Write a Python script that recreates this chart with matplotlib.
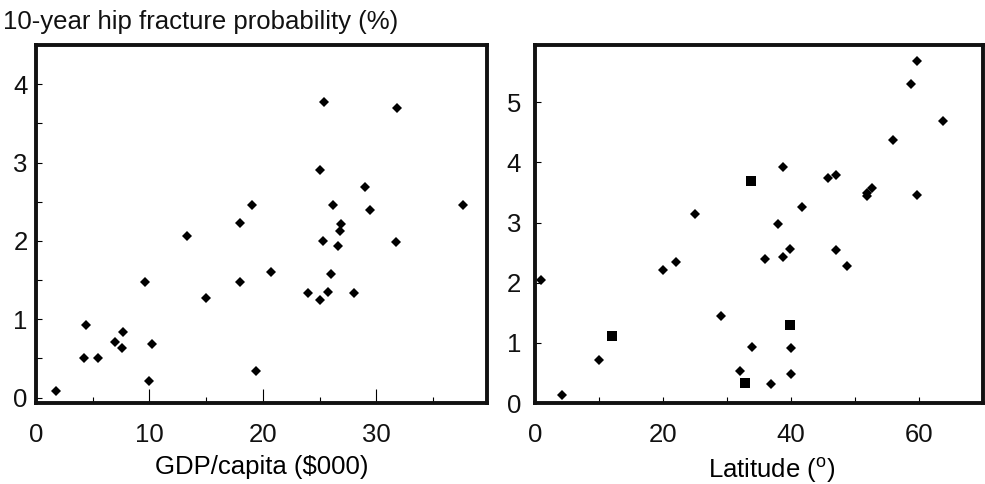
import numpy as np
import matplotlib
matplotlib.use("Agg")
import matplotlib.pyplot as plt
from matplotlib.ticker import MultipleLocator

plt.rcParams['font.family'] = ['Liberation Sans', 'DejaVu Sans']
plt.rcParams['mathtext.fontset'] = 'custom'
plt.rcParams['mathtext.rm'] = 'Liberation Sans'

# left panel: GDP per capita ($000) vs 10-year hip fracture probability (%)
gdp = [25.4, 31.8, 25.0, 29.0, 19.0, 26.2, 37.6, 29.4, 18.0, 26.9, 26.8, 13.3,
       25.3, 26.6, 31.7, 9.6, 15.0, 18.0, 20.7, 26.0, 24.0, 25.0, 25.7, 28.0,
       4.4, 7.7, 7.0, 7.6, 10.2, 4.2, 5.5, 19.4, 10.0, 1.8]
prob_gdp = [3.77, 3.69, 2.91, 2.69, 2.46, 2.46, 2.46, 2.39, 2.23, 2.22, 2.13, 2.06,
            2.00, 1.94, 1.99, 1.48, 1.27, 1.48, 1.61, 1.58, 1.34, 1.25, 1.35, 1.34,
            0.93, 0.84, 0.71, 0.64, 0.68, 0.50, 0.50, 0.34, 0.21, 0.09]

# right panel: latitude (degrees) vs probability, diamonds
lat = [59.7, 58.8, 63.8, 55.9, 38.8, 45.8, 47.0, 52.7, 51.9, 51.9, 59.7, 41.7,
       25.0, 37.9, 1.0, 20.0, 22.0, 29.1, 35.9, 38.8, 39.9, 47.0, 48.8, 33.9,
       40.0, 10.0, 32.0, 40.0, 36.9, 4.2]
prob_lat = [5.68, 5.31, 4.69, 4.38, 3.93, 3.74, 3.79, 3.58, 3.49, 3.44, 3.45, 3.26,
            3.14, 2.98, 2.05, 2.22, 2.35, 1.44, 2.39, 2.43, 2.56, 2.55, 2.28, 0.94,
            0.92, 0.71, 0.53, 0.48, 0.32, 0.14]
# squares
lat_sq = [33.8, 39.9, 12.0, 32.8]
prob_sq = [3.69, 1.30, 1.12, 0.33]

fig = plt.figure(figsize=(9.85, 4.84), dpi=100)
ax1 = fig.add_axes([0.0365, 0.167, 0.4575, 0.74])
ax2 = fig.add_axes([0.5431, 0.167, 0.4549, 0.74])

ax1.plot(gdp, prob_gdp, 'D', color='black', ms=5.5, mew=0)
ax1.set_xlim(0, 39.7)
ax1.set_ylim(-0.07, 4.5)
ax1.xaxis.set_major_locator(MultipleLocator(10))
ax1.xaxis.set_minor_locator(MultipleLocator(5))
ax1.yaxis.set_major_locator(MultipleLocator(1))
ax1.yaxis.set_minor_locator(MultipleLocator(0.5))
ax1.tick_params(axis='x', which='major', direction='in', length=10, width=0.8, pad=14)
ax1.tick_params(axis='x', which='minor', direction='in', length=4, width=0.8)
ax1.tick_params(axis='y', which='both', direction='in', length=4, width=0.8, pad=6)
ax1.set_xlabel('GDP/capita ($000)', fontsize=18.5)
ax1.xaxis.set_label_coords(0.5, -0.145)

ax2.plot(lat, prob_lat, 'D', color='black', ms=5.5, mew=0)
ax2.plot(lat_sq, prob_sq, 's', color='black', ms=6.5, mew=0)
ax2.set_xlim(0, 70)
ax2.set_ylim(0, 5.95)
ax2.xaxis.set_major_locator(MultipleLocator(20))
ax2.xaxis.set_minor_locator(MultipleLocator(10))
ax2.yaxis.set_major_locator(MultipleLocator(1))
ax2.tick_params(axis='x', which='both', direction='in', length=4, width=0.8, pad=14)
ax2.tick_params(axis='y', which='both', direction='in', length=4, width=0.8, pad=10)
ax2.set_xlabel(r'Latitude ($^{\mathrm{o}}$)', fontsize=18.5)
ax2.xaxis.set_label_coords(0.529, -0.145)

for ax in (ax1, ax2):
    for sp in ax.spines.values():
        sp.set_linewidth(2.8)
        sp.set_color('#111111')
    ax.tick_params(labelsize=18.5)
    for lab in ax.get_xticklabels() + ax.get_yticklabels():
        lab.set_color('#111111')

fig.text(0.003, 0.955, '10-year hip fracture probability (%)', fontsize=18.5,
         va='center', ha='left', color='#111111')

fig.savefig('out.png', dpi=100)
